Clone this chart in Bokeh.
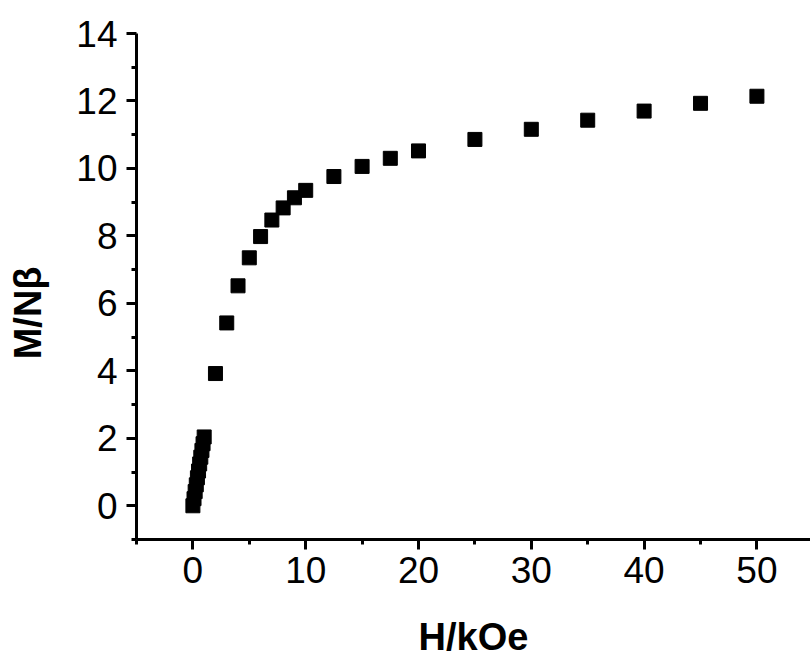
from bokeh.plotting import figure
from bokeh.models import FixedTicker, Range1d, LinearAxis
from bokeh.embed import file_html
from bokeh.resources import INLINE

# Low-field points (kOe) and reduced magnetization
h_low = [0.0, 0.1, 0.2, 0.3, 0.4, 0.5, 0.6, 0.7, 0.8, 0.9, 1.0]
m_low = [0.0, 0.21, 0.42, 0.62, 0.83, 1.03, 1.24, 1.44, 1.64, 1.84, 2.04]

# High-field points
h_high = [2, 3, 4, 5, 6, 7, 8, 9, 10, 12.5, 15, 17.5, 20, 25, 30, 35, 40, 45, 50]
m_high = [3.92, 5.42, 6.52, 7.35, 7.98, 8.47, 8.83, 9.13, 9.35, 9.76, 10.06,
          10.3, 10.52, 10.86, 11.16, 11.43, 11.7, 11.93, 12.14]

x_major = [0, 10, 20, 30, 40, 50]
x_minor = [-5, 5, 15, 25, 35, 45]
y_major = [0, 2, 4, 6, 8, 10, 12, 14]
y_minor = [-1, 1, 3, 5, 7, 9, 11, 13]

H = h_low + h_high
M = m_low + m_high

p = figure(width=810, height=660, output_backend="svg", toolbar_location=None,
           x_range=Range1d(-5, 54.75), y_range=Range1d(-1, 14),
           min_border_left=136, min_border_right=0, min_border_top=33,
           min_border_bottom=120)
p.outline_line_color = None
p.xgrid.visible = False
p.ygrid.visible = False

p.scatter(H, M, marker="square", size=14, fill_color="black", line_color="black", line_width=1)

FONT = "Liberation Sans"
for ax, maj, mnr in ((p.xaxis[0], x_major, x_minor), (p.yaxis[0], y_major, y_minor)):
    ax.ticker = FixedTicker(ticks=maj, minor_ticks=mnr)
    ax.axis_line_width = 3
    ax.axis_line_color = "black"
    ax.major_tick_line_width = 3
    ax.minor_tick_line_width = 3
    ax.major_tick_out = 10
    ax.major_tick_in = 0
    ax.minor_tick_out = 5
    ax.minor_tick_in = 0
    ax.major_label_text_font = FONT
    ax.major_label_text_font_size = "37px"
    ax.major_label_text_color = "black"

p.xaxis.major_label_standoff = 7
p.yaxis.major_label_standoff = 9
p.xaxis.axis_label = "H/kOe"
p.xaxis.axis_label_text_font = FONT
p.xaxis.axis_label_text_font_style = "bold"
p.xaxis.axis_label_text_font_size = "38px"
p.xaxis.axis_label_text_color = "black"
p.xaxis.axis_label_standoff = 30

# label-only axis; trailing no-break spaces push the visible text a little lower
lab_ax = LinearAxis(ticker=FixedTicker(ticks=[]),
                    axis_line_color=None, major_tick_line_color=None,
                    minor_tick_line_color=None,
                    axis_label="M/Nβ" + "\u00a0" * 5, axis_label_text_font=FONT,
                    axis_label_text_font_style="bold",
                    axis_label_text_font_size="38px",
                    axis_label_text_color="black", axis_label_standoff=25)
p.add_layout(lab_ax, "left")

open("out.html", "w").write(file_html(p, INLINE))
